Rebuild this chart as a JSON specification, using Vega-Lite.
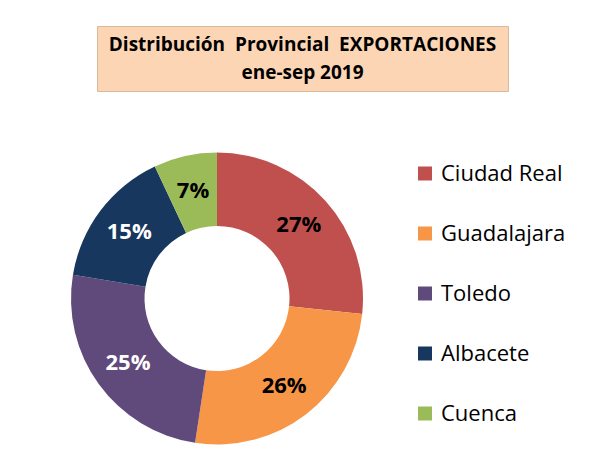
{
  "$schema": "https://vega.github.io/schema/vega-lite/v6.json",
  "padding": {"left": 71, "top": 25, "right": 5, "bottom": 5},
  "background": "white",
  "bounds": "flush",
  "spacing": 61.5,
  "resolve": {"legend": {"color": "independent"}, "scale": {"color": "independent"}},
  "config": {
    "view": {"stroke": null},
    "font": "Open Sans",
    "legend": {
      "title": null,
      "orient": "right",
      "offset": 67,
      "padding": 10,
      "symbolType": "square",
      "symbolSize": 196,
      "symbolStrokeWidth": 0,
      "labelFont": "Open Sans",
      "labelFontSize": 22,
      "labelColor": "#000000",
      "labelOffset": 5,
      "rowPadding": 38
    }
  },
  "vconcat": [
    {
      "width": 411,
      "height": 65,
      "view": {"fill": "#FCD5B5", "stroke": "#D9B99B", "strokeWidth": 1},
      "data": {"values": [{"titulo": "Distribución\u00a0 Provincial\u00a0 EXPORTACIONES\nene-sep 2019"}]},
      "mark": {"type": "text", "font": "Open Sans", "fontWeight": "bold", "fontSize": 19, "lineBreak": "\n", "lineHeight": 28, "color": "#000000", "baseline": "middle", "align": "center", "dy": -14},
      "encoding": {"text": {"field": "titulo", "type": "nominal"}}
    },
    {
      "width": 240,
      "height": 292,
      "data": {
        "values": [
          {"provincia": "Ciudad Real", "cuota": 0.267, "orden": 1},
          {"provincia": "Guadalajara", "cuota": 0.257, "orden": 2},
          {"provincia": "Toledo", "cuota": 0.252, "orden": 3},
          {"provincia": "Albacete", "cuota": 0.154, "orden": 4},
          {"provincia": "Cuenca", "cuota": 0.070, "orden": 5}
        ]
      },
      "encoding": {
        "theta": {"field": "cuota", "type": "quantitative", "stack": true},
        "order": {"field": "orden", "type": "quantitative"}
      },
      "layer": [
        {
          "mark": {"type": "arc", "outerRadius": 146, "innerRadius": 72.5},
          "encoding": {
            "color": {
              "field": "provincia",
              "type": "nominal",
              "scale": {
                "domain": ["Ciudad Real", "Guadalajara", "Toledo", "Albacete", "Cuenca"],
                "range": ["#C0504D", "#F79646", "#604A7B", "#17375E", "#9BBB59"]
              },
              "legend": {}
            }
          }
        },
        {
          "mark": {"type": "text", "radius": 110, "font": "Open Sans", "fontSize": 22, "fontWeight": "bold", "baseline": "middle", "align": "center"},
          "encoding": {
            "text": {"field": "cuota", "type": "quantitative", "format": ".0%"},
            "detail": {"field": "provincia", "type": "nominal"},
            "color": {
              "condition": {"test": "datum.provincia === 'Toledo' || datum.provincia === 'Albacete'", "value": "#FFFFFF"},
              "value": "#000000"
            }
          }
        }
      ]
    }
  ]
}
